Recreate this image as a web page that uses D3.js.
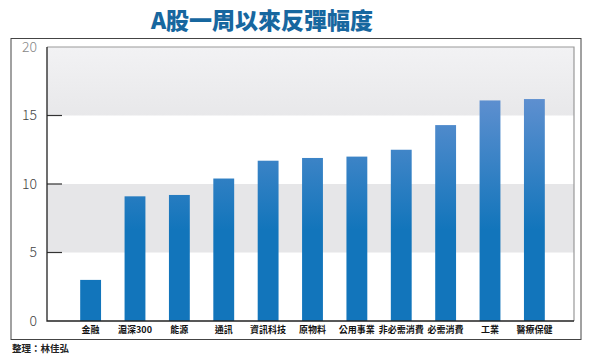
<!DOCTYPE html>
<html>
<head>
<meta charset="utf-8">
<script src="https://cdn.jsdelivr.net/npm/d3@7"></script>
<style>
  body { margin: 0; background: #fff; }
  text { font-family: "Noto Sans CJK TC", "Noto Sans", sans-serif; }
</style>
</head>
<body>
<script>
const categories = ["金融", "滬深300", "能源", "通訊", "資訊科技", "原物料", "公用事業", "非必需消費", "必需消費", "工業", "醫療保健"];
const values = [3.0, 9.1, 9.2, 10.4, 11.7, 11.9, 12.0, 12.5, 14.3, 16.1, 16.2];
const yTicks = [0, 5, 10, 15, 20];
const bands = [[5, 10], [15, 20]];

const width = 590, height = 356;
const plot = { left: 47, right: 574, top: 47, bottom: 321 };

const svg = d3.select("body").append("svg")
    .attr("width", width)
    .attr("height", height);

const defs = svg.append("defs");
const barGrad = defs.append("linearGradient")
    .attr("id", "barGrad")
    .attr("gradientUnits", "userSpaceOnUse")
    .attr("x1", 0).attr("x2", 0)
    .attr("y1", 95).attr("y2", 230);
barGrad.append("stop").attr("offset", 0).attr("stop-color", "#6090d0");
barGrad.append("stop").attr("offset", 1).attr("stop-color", "#1275bb");

const topGrad = defs.append("linearGradient")
    .attr("id", "topGrad")
    .attr("x1", 0).attr("x2", 0).attr("y1", 0).attr("y2", 1);
topGrad.append("stop").attr("offset", 0).attr("stop-color", "#f2f2f4");
topGrad.append("stop").attr("offset", 1).attr("stop-color", "#e8e8ea");

const y = d3.scaleLinear().domain([0, 20]).range([plot.bottom, plot.top]);
const x = d3.scaleBand()
    .domain(categories)
    .range([58, 567])
    .paddingInner(0.53)
    .paddingOuter(0.5);

// title
svg.append("text")
    .attr("x", 262)
    .attr("y", 29)
    .attr("text-anchor", "middle")
    .attr("font-size", 23)
    .attr("font-weight", 900)
    .attr("fill", "#17679f")
    .text("A股一周以來反彈幅度");

// outer frame
svg.append("rect")
    .attr("x", 11).attr("y", 38.5)
    .attr("width", 570).attr("height", 301)
    .attr("fill", "none")
    .attr("stroke", "#444")
    .attr("stroke-width", 1);

// gray bands
svg.append("g").selectAll("rect")
    .data(bands)
    .enter().append("rect")
    .attr("x", plot.left)
    .attr("y", d => y(d[1]))
    .attr("width", plot.right - plot.left)
    .attr("height", d => y(d[0]) - y(d[1]))
    .attr("fill", (d, i) => i === 1 ? "url(#topGrad)" : "#e6e6e8");

// top/right border
svg.append("path")
    .attr("d", `M${plot.left},${plot.top}H${plot.right}V${plot.bottom}`)
    .attr("fill", "none")
    .attr("stroke", "#999")
    .attr("stroke-width", 1.2);

// bars
svg.append("g").selectAll("rect")
    .data(values)
    .enter().append("rect")
    .attr("x", (d, i) => x(categories[i]))
    .attr("y", d => y(d))
    .attr("width", x.bandwidth())
    .attr("height", d => y(0) - y(d))
    .attr("fill", "url(#barGrad)");

// y axis
const yAxis = svg.append("g")
    .attr("transform", `translate(${plot.left},0)`)
    .call(d3.axisLeft(y).tickValues(yTicks).tickSize(0).tickPadding(10));
yAxis.select(".domain").remove();
yAxis.selectAll("text")
    .attr("font-size", 14)
    .attr("font-family", "DejaVu Sans, sans-serif")
    .attr("font-weight", 300)
    .attr("fill", d => d === 20 ? "#888" : "#444");

// tick marks inside
svg.append("g").selectAll("line")
    .data(yTicks.filter(d => d > 0 && d < 20))
    .enter().append("line")
    .attr("x1", plot.left).attr("x2", plot.left + 15)
    .attr("y1", d => y(d)).attr("y2", d => y(d))
    .attr("stroke", "#333")
    .attr("stroke-width", 1.2);

// left axis + baseline
svg.append("path")
    .attr("d", `M${plot.left},${plot.top}V${plot.bottom}H${plot.right}`)
    .attr("fill", "none")
    .attr("stroke", "#222")
    .attr("stroke-width", 1.3);

// category labels
svg.append("g").selectAll("text")
    .data(categories)
    .enter().append("text")
    .attr("x", d => x(d) + x.bandwidth() / 2)
    .attr("y", 333)
    .attr("text-anchor", "middle")
    .attr("font-size", 9)
    .attr("font-weight", "bold")
    .attr("fill", "#111")
    .text(d => d);

// source
svg.append("text")
    .attr("x", 12)
    .attr("y", 352)
    .attr("font-size", 9.5)
    .attr("font-weight", "bold")
    .attr("fill", "#222")
    .text("整理：林佳弘");
</script>
</body>
</html>
